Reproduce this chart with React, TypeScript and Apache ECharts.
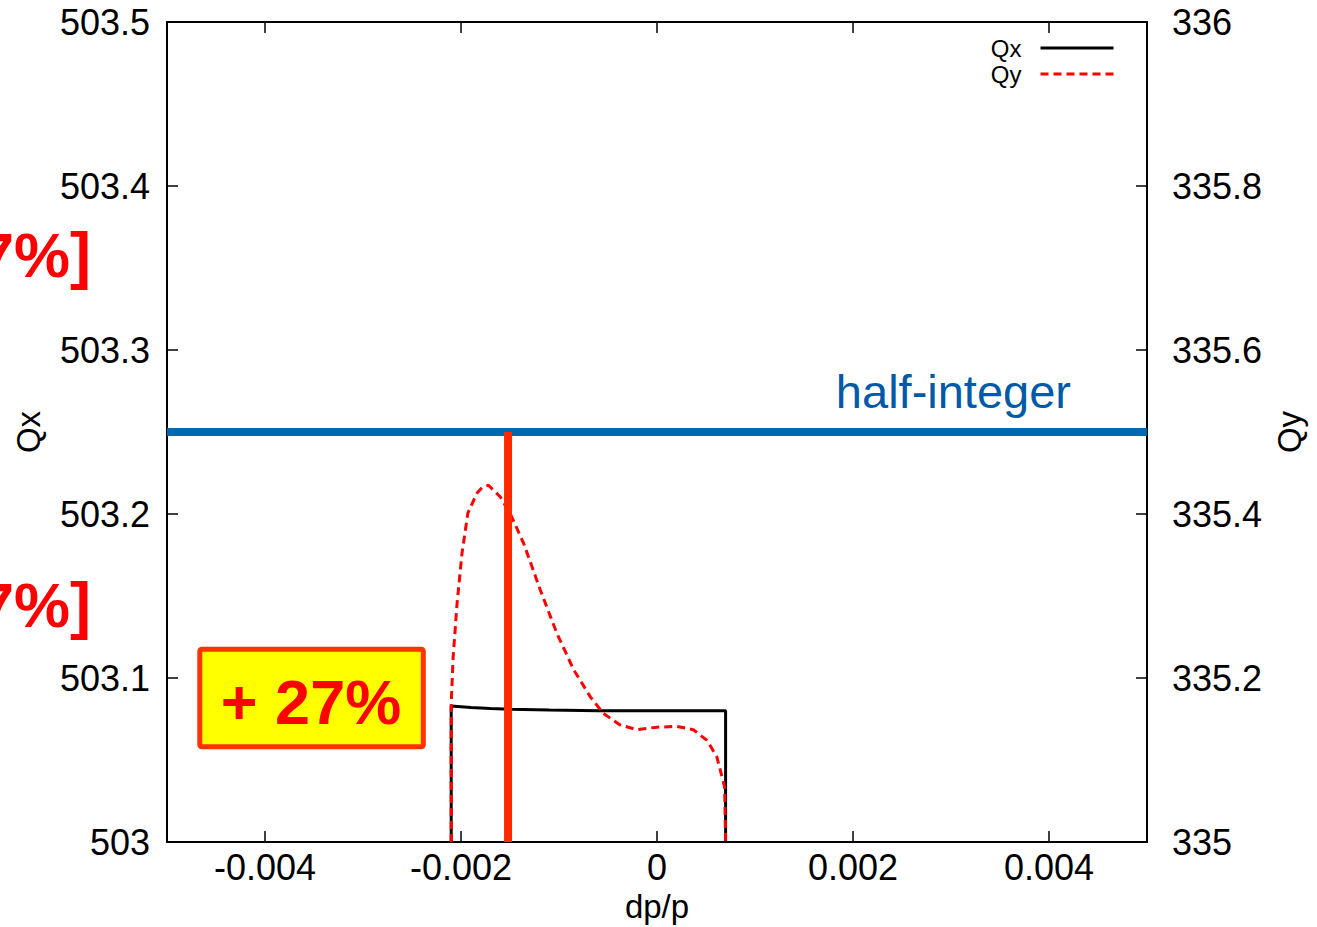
import React, { useEffect, useRef } from "react";
import * as echarts from "echarts";

// Horizontal tune Qx vs momentum deviation
const qxDp = [-0.0021, -0.0021, -0.0019, -0.0017, -0.0015, -0.0011, -0.0006, 0, 0.0004, 0.0007, 0.0007];
const qxVal = [503.0, 503.0829, 503.082, 503.0814, 503.0809, 503.0805, 503.0801, 503.08, 503.08, 503.08, 503.0];

// Vertical tune Qy vs momentum deviation
const qyDp = [
  -0.0021, -0.0021, -0.00208, -0.00204, -0.00199, -0.00193, -0.00184, -0.00178, -0.00172, -0.0016,
  -0.0015, -0.00136, -0.00119, -0.00102, -0.00085, -0.00068, -0.00055, -0.00038, -0.00021, 0.0,
  0.0002, 0.00037, 0.00051, 0.00061, 0.00069, 0.0007,
];
const qyVal = [
  335.0, 335.169, 335.226, 335.291, 335.352, 335.401, 335.425, 335.433, 335.435, 335.421,
  335.401, 335.364, 335.307, 335.254, 335.21, 335.177, 335.157, 335.143, 335.137, 335.14,
  335.141, 335.137, 335.124, 335.104, 335.067, 335.0,
];

// Half-integer resonance in Qx and the marked operating momentum
const halfIntegerQx = 503.25;
const markerDp = -0.00152;

const xTicks = [-0.004, -0.002, 0, 0.002, 0.004];
const xRange = [-0.005, 0.005];
const qxRange = [503, 503.5];
const qyRange = [335, 336];

const FONT = "'Liberation Sans', Arial, Helvetica, sans-serif";

export default function App() {
  const ref = useRef<HTMLDivElement>(null);

  useEffect(() => {
    if (!ref.current) return;
    const chart = echarts.init(ref.current, undefined, { renderer: "svg" });

    const fmt1 = (v: number) => String(Number(v.toFixed(1)));
    const fmtX = (v: number) => (Math.abs(v) < 1e-12 ? "0" : String(Number(v.toFixed(3))));

    const tickStyle = { show: true, inside: true, length: 11, lineStyle: { color: "#000", width: 1.5 } };
    const frameLine = { show: true, onZero: false, lineStyle: { color: "#000", width: 2 } };

    chart.setOption({
      animation: false,
      backgroundColor: "#fff",
      textStyle: { fontFamily: FONT },
      grid: {
        left: 167,
        right: 170,
        top: 22,
        bottom: 85,
        outerBoundsMode: "none",
        containLabel: false,
        show: true,
        borderColor: "#000",
        borderWidth: 2,
        backgroundColor: "transparent",
      },
      legend: {
        data: ["Qx", "Qy"],
        orient: "vertical",
        align: "right",
        right: 197,
        top: 31,
        itemWidth: 73,
        itemHeight: 14,
        itemGap: 2,
        itemStyle: { opacity: 0 },
        lineStyle: { width: 3 },
        textStyle: { fontSize: 24, color: "#000", fontFamily: FONT, padding: [0, 14, 0, 0] },
      },
      xAxis: [
        {
          type: "value",
          min: xRange[0],
          max: xRange[1],
          name: "dp/p",
          nameLocation: "middle",
          nameGap: 37,
          nameTextStyle: { fontSize: 33, color: "#000", fontFamily: FONT },
          axisLine: frameLine,
          axisTick: { ...tickStyle, customValues: xTicks },
          axisLabel: {
            customValues: xTicks,
            formatter: fmtX,
            fontSize: 36,
            color: "#000",
            fontFamily: FONT,
            margin: 7,
          },
          splitLine: { show: false },
        },
        {
          type: "value",
          position: "top",
          min: xRange[0],
          max: xRange[1],
          axisLine: frameLine,
          axisTick: { ...tickStyle, customValues: xTicks },
          axisLabel: { show: false },
          splitLine: { show: false },
        },
      ],
      yAxis: [
        {
          type: "value",
          position: "left",
          min: qxRange[0],
          max: qxRange[1],
          interval: 0.1,
          name: "Qx",
          nameLocation: "middle",
          nameRotate: 90,
          nameGap: 122,
          nameTextStyle: { fontSize: 33, color: "#000", fontFamily: FONT },
          axisLine: frameLine,
          axisTick: tickStyle,
          axisLabel: { formatter: fmt1, fontSize: 36, color: "#000", fontFamily: FONT, margin: 17 },
          splitLine: { show: false },
        },
        {
          type: "value",
          position: "right",
          min: qyRange[0],
          max: qyRange[1],
          interval: 0.2,
          name: "Qy",
          nameLocation: "middle",
          nameRotate: 90,
          nameGap: 120,
          nameTextStyle: { fontSize: 33, color: "#000", fontFamily: FONT },
          axisLine: frameLine,
          axisTick: tickStyle,
          axisLabel: { formatter: fmt1, fontSize: 36, color: "#000", fontFamily: FONT, margin: 25 },
          splitLine: { show: false },
        },
      ],
      series: [
        {
          name: "half-integer",
          type: "line",
          xAxisIndex: 0,
          yAxisIndex: 0,
          data: [
            [xRange[0], halfIntegerQx],
            [xRange[1], halfIntegerQx],
          ],
          symbol: "none",
          lineStyle: { color: "#0068b0", width: 8 },
          z: 2,
        },
        {
          name: "Qx",
          type: "line",
          xAxisIndex: 0,
          yAxisIndex: 0,
          data: qxDp.map((d, i) => [d, qxVal[i]]),
          symbol: "none",
          color: "#000",
          lineStyle: { color: "#000", width: 3 },
          z: 3,
        },
        {
          name: "Qy",
          type: "line",
          xAxisIndex: 0,
          yAxisIndex: 1,
          data: qyDp.map((d, i) => [d, qyVal[i]]),
          symbol: "none",
          color: "#ff0000",
          lineStyle: { color: "#ff0000", width: 3, type: [8, 5] },
          z: 4,
        },
        {
          name: "marker",
          type: "line",
          xAxisIndex: 0,
          yAxisIndex: 0,
          data: [
            [markerDp, qxRange[0]],
            [markerDp, halfIntegerQx],
          ],
          symbol: "none",
          lineStyle: { color: "#ff2a00", width: 8 },
          z: 5,
        },
      ],
      graphic: [
        {
          type: "text",
          x: 1071,
          y: 391,
          style: {
            text: "half-integer",
            fill: "#005aa8",
            font: `47px ${FONT}`,
            textAlign: "right",
            textVerticalAlign: "middle",
          },
          z: 10,
        },
        {
          type: "rect",
          shape: { x: 199.8, y: 649.3, width: 223.5, height: 97.5, r: 2 },
          style: { fill: "#ffff00", stroke: "#ff3300", lineWidth: 5 },
          z: 10,
        },
        {
          type: "text",
          x: 311,
          y: 702,
          style: {
            text: "+ 27%",
            fill: "#ff0000",
            font: `bold 63px ${FONT}`,
            textAlign: "center",
            textVerticalAlign: "middle",
          },
          z: 11,
        },
        {
          type: "text",
          x: 91,
          y: 255,
          style: {
            text: "[+27%]",
            fill: "#ff0000",
            font: `bold 63px ${FONT}`,
            textAlign: "right",
            textVerticalAlign: "middle",
          },
          z: 11,
        },
        {
          type: "text",
          x: 91,
          y: 605,
          style: {
            text: "[+27%]",
            fill: "#ff0000",
            font: `bold 63px ${FONT}`,
            textAlign: "right",
            textVerticalAlign: "middle",
          },
          z: 11,
        },
      ],
    });

    return () => chart.dispose();
  }, []);

  return (
    <div
      ref={ref}
      style={{ position: "absolute", left: 0, top: 0, width: 1317, height: 927, background: "#fff" }}
    />
  );
}
